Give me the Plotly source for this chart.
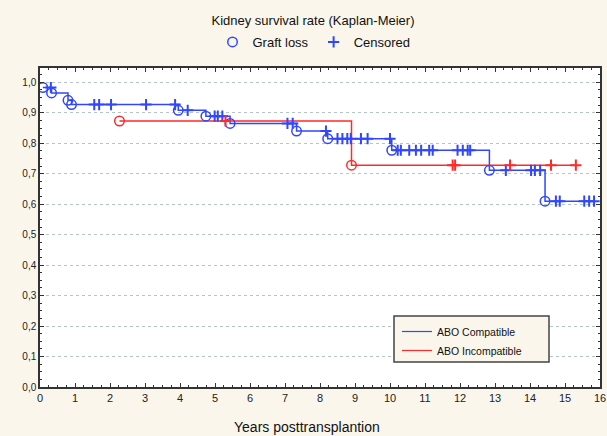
import plotly.graph_objects as go

# ---------------- data ----------------
blue_event_t = [0.08, 0.33, 0.80, 0.90, 3.95, 4.74, 5.43, 7.33, 8.22, 10.05, 12.84, 14.43]
blue_event_s = [0.983, 0.965, 0.941, 0.927, 0.908, 0.889, 0.865, 0.840, 0.815, 0.777, 0.711, 0.610]
blue_cens_t = [0.31, 1.55, 1.69, 2.03, 3.03, 3.86, 4.22, 4.99, 5.08, 5.21, 7.07, 7.22, 8.17,
               8.50, 8.64, 8.78, 8.88, 9.17, 9.36, 10.00, 10.22, 10.31, 10.55, 10.74, 10.89,
               11.12, 11.22, 11.93, 12.08, 12.22, 12.29, 13.31, 14.03, 14.14, 14.29, 14.74,
               14.85, 15.55, 15.69, 15.83]
blue_end_t = 15.83

red_event_t = [2.27, 8.90]
red_event_s = [0.873, 0.728]
red_cens_t = [5.30, 11.79, 11.86, 13.43, 14.60, 15.31]
red_end_t = 15.31

x_ticks = list(range(0, 17))
y_ticks = [0.0, 0.1, 0.2, 0.3, 0.4, 0.5, 0.6, 0.7, 0.8, 0.9, 1.0]
y_tick_labels = ["0,0", "0,1", "0,2", "0,3", "0,4", "0,5", "0,6", "0,7", "0,8", "0,9", "1,0"]

BLUE = "#3047ff"
RED = "#ff2a2a"
CREAM = "#faf6ec"
FONT = "Liberation Sans, Arial"

# plot area in pixels (for placing legend box)
L, R, T, B = 40, 600, 68, 387


def level_at(t, ev_t, ev_s):
    lvl = ev_s[0]
    for et, es in zip(ev_t, ev_s):
        if et <= t:
            lvl = es
    return lvl


def px_x(p):
    return (p - L) / (R - L)


def px_y(p):
    return (B - p) / (B - T)


fig = go.Figure()

groups = [
    (blue_event_t, blue_event_s, blue_cens_t, blue_end_t, BLUE),
    (red_event_t, red_event_s, red_cens_t, red_end_t, RED),
]

for ev_t, ev_s, c_t, end_t, col in groups:
    fig.add_trace(go.Scatter(
        x=ev_t + [end_t], y=ev_s + [ev_s[-1]], mode="lines",
        line=dict(color=col, width=1.5, shape="hv"), showlegend=False, hoverinfo="skip"))

for ev_t, ev_s, c_t, end_t, col in groups:
    fig.add_trace(go.Scatter(
        x=c_t, y=[level_at(t, ev_t, ev_s) for t in c_t], mode="markers",
        marker=dict(symbol="cross-thin", size=8, line=dict(color=col, width=2)),
        showlegend=False))
    fig.add_trace(go.Scatter(
        x=ev_t, y=ev_s, mode="markers",
        marker=dict(symbol="circle-open", size=9.5, color=col, line=dict(color=col, width=1.5)),
        showlegend=False))

# top legend
fig.add_trace(go.Scatter(x=[None], y=[None], mode="markers", name="Graft loss",
                         marker=dict(symbol="circle-open", size=9.5, color=BLUE, line=dict(width=1.5)),
                         legend="legend"))
fig.add_trace(go.Scatter(x=[None], y=[None], mode="markers", name="Censored",
                         marker=dict(symbol="cross-thin", size=8, line=dict(color=BLUE, width=2)),
                         legend="legend"))
# inner legend
fig.add_trace(go.Scatter(x=[None], y=[None], mode="lines", name="ABO Compatible",
                         line=dict(color=BLUE, width=1.2), legend="legend2"))
fig.add_trace(go.Scatter(x=[None], y=[None], mode="lines", name="ABO Incompatible",
                         line=dict(color=RED, width=1.2), legend="legend2"))

axis_common = dict(showline=True, linecolor="#333333", linewidth=1.5, mirror="allticks",
                   ticks="inside", tickcolor="#333333", zeroline=False, automargin=False)

# legend box (drawn as a shape so it matches the reference size)
fig.add_shape(type="rect", xref="paper", yref="paper",
              x0=px_x(394), x1=px_x(549), y0=px_y(362), y1=px_y(316),
              fillcolor=CREAM, line=dict(color="#444444", width=1.5), layer="above")

fig.add_annotation(text="Years posttransplantion", xref="paper", yref="paper",
                   x=px_x(307), y=px_y(427), xanchor="center", yanchor="middle",
                   showarrow=False, font=dict(size=14, family=FONT, color="#111111"))

fig.update_layout(
    width=607, height=436,
    margin=dict(l=L, r=607 - R, t=T, b=436 - B),
    paper_bgcolor=CREAM, plot_bgcolor="white",
    font=dict(family=FONT, color="#111111"),
    title=dict(text="Kidney survival rate (Kaplan-Meier)", x=313 / 607, xanchor="center",
               y=1 - 20 / 436, yanchor="middle", font=dict(size=13)),
    xaxis=dict(range=[0, 16], tickvals=x_ticks, ticklen=4, showgrid=False,
               tickfont=dict(family=FONT, size=11, color="#222222"),
               minor=dict(ticks="inside", dtick=0.25, ticklen=2, tickcolor="#333333", showgrid=False),
               **axis_common),
    yaxis=dict(range=[0, 1.047], tickvals=y_ticks, ticktext=y_tick_labels, ticklen=4,
               tickfont=dict(family=FONT, size=10, color="#222222"),
               showgrid=True, gridcolor="#b3c6c6", griddash="dot", gridwidth=1,
               minor=dict(ticks="inside", dtick=0.025, ticklen=2, tickcolor="#333333", showgrid=False),
               **axis_common),
    legend=dict(orientation="h", xref="container", yref="container",
                x=314 / 607, xanchor="center", y=1 - 42 / 436, yanchor="middle",
                bgcolor="rgba(0,0,0,0)", font=dict(size=13), itemwidth=30),
    legend2=dict(x=px_x(397), xanchor="left", y=px_y(317), yanchor="top",
                 bgcolor="rgba(0,0,0,0)", borderwidth=0, font=dict(size=10.5)),
)

fig.write_html("out.html", config={"displayModeBar": False},
               post_script="document.body.style.margin='0px';")
